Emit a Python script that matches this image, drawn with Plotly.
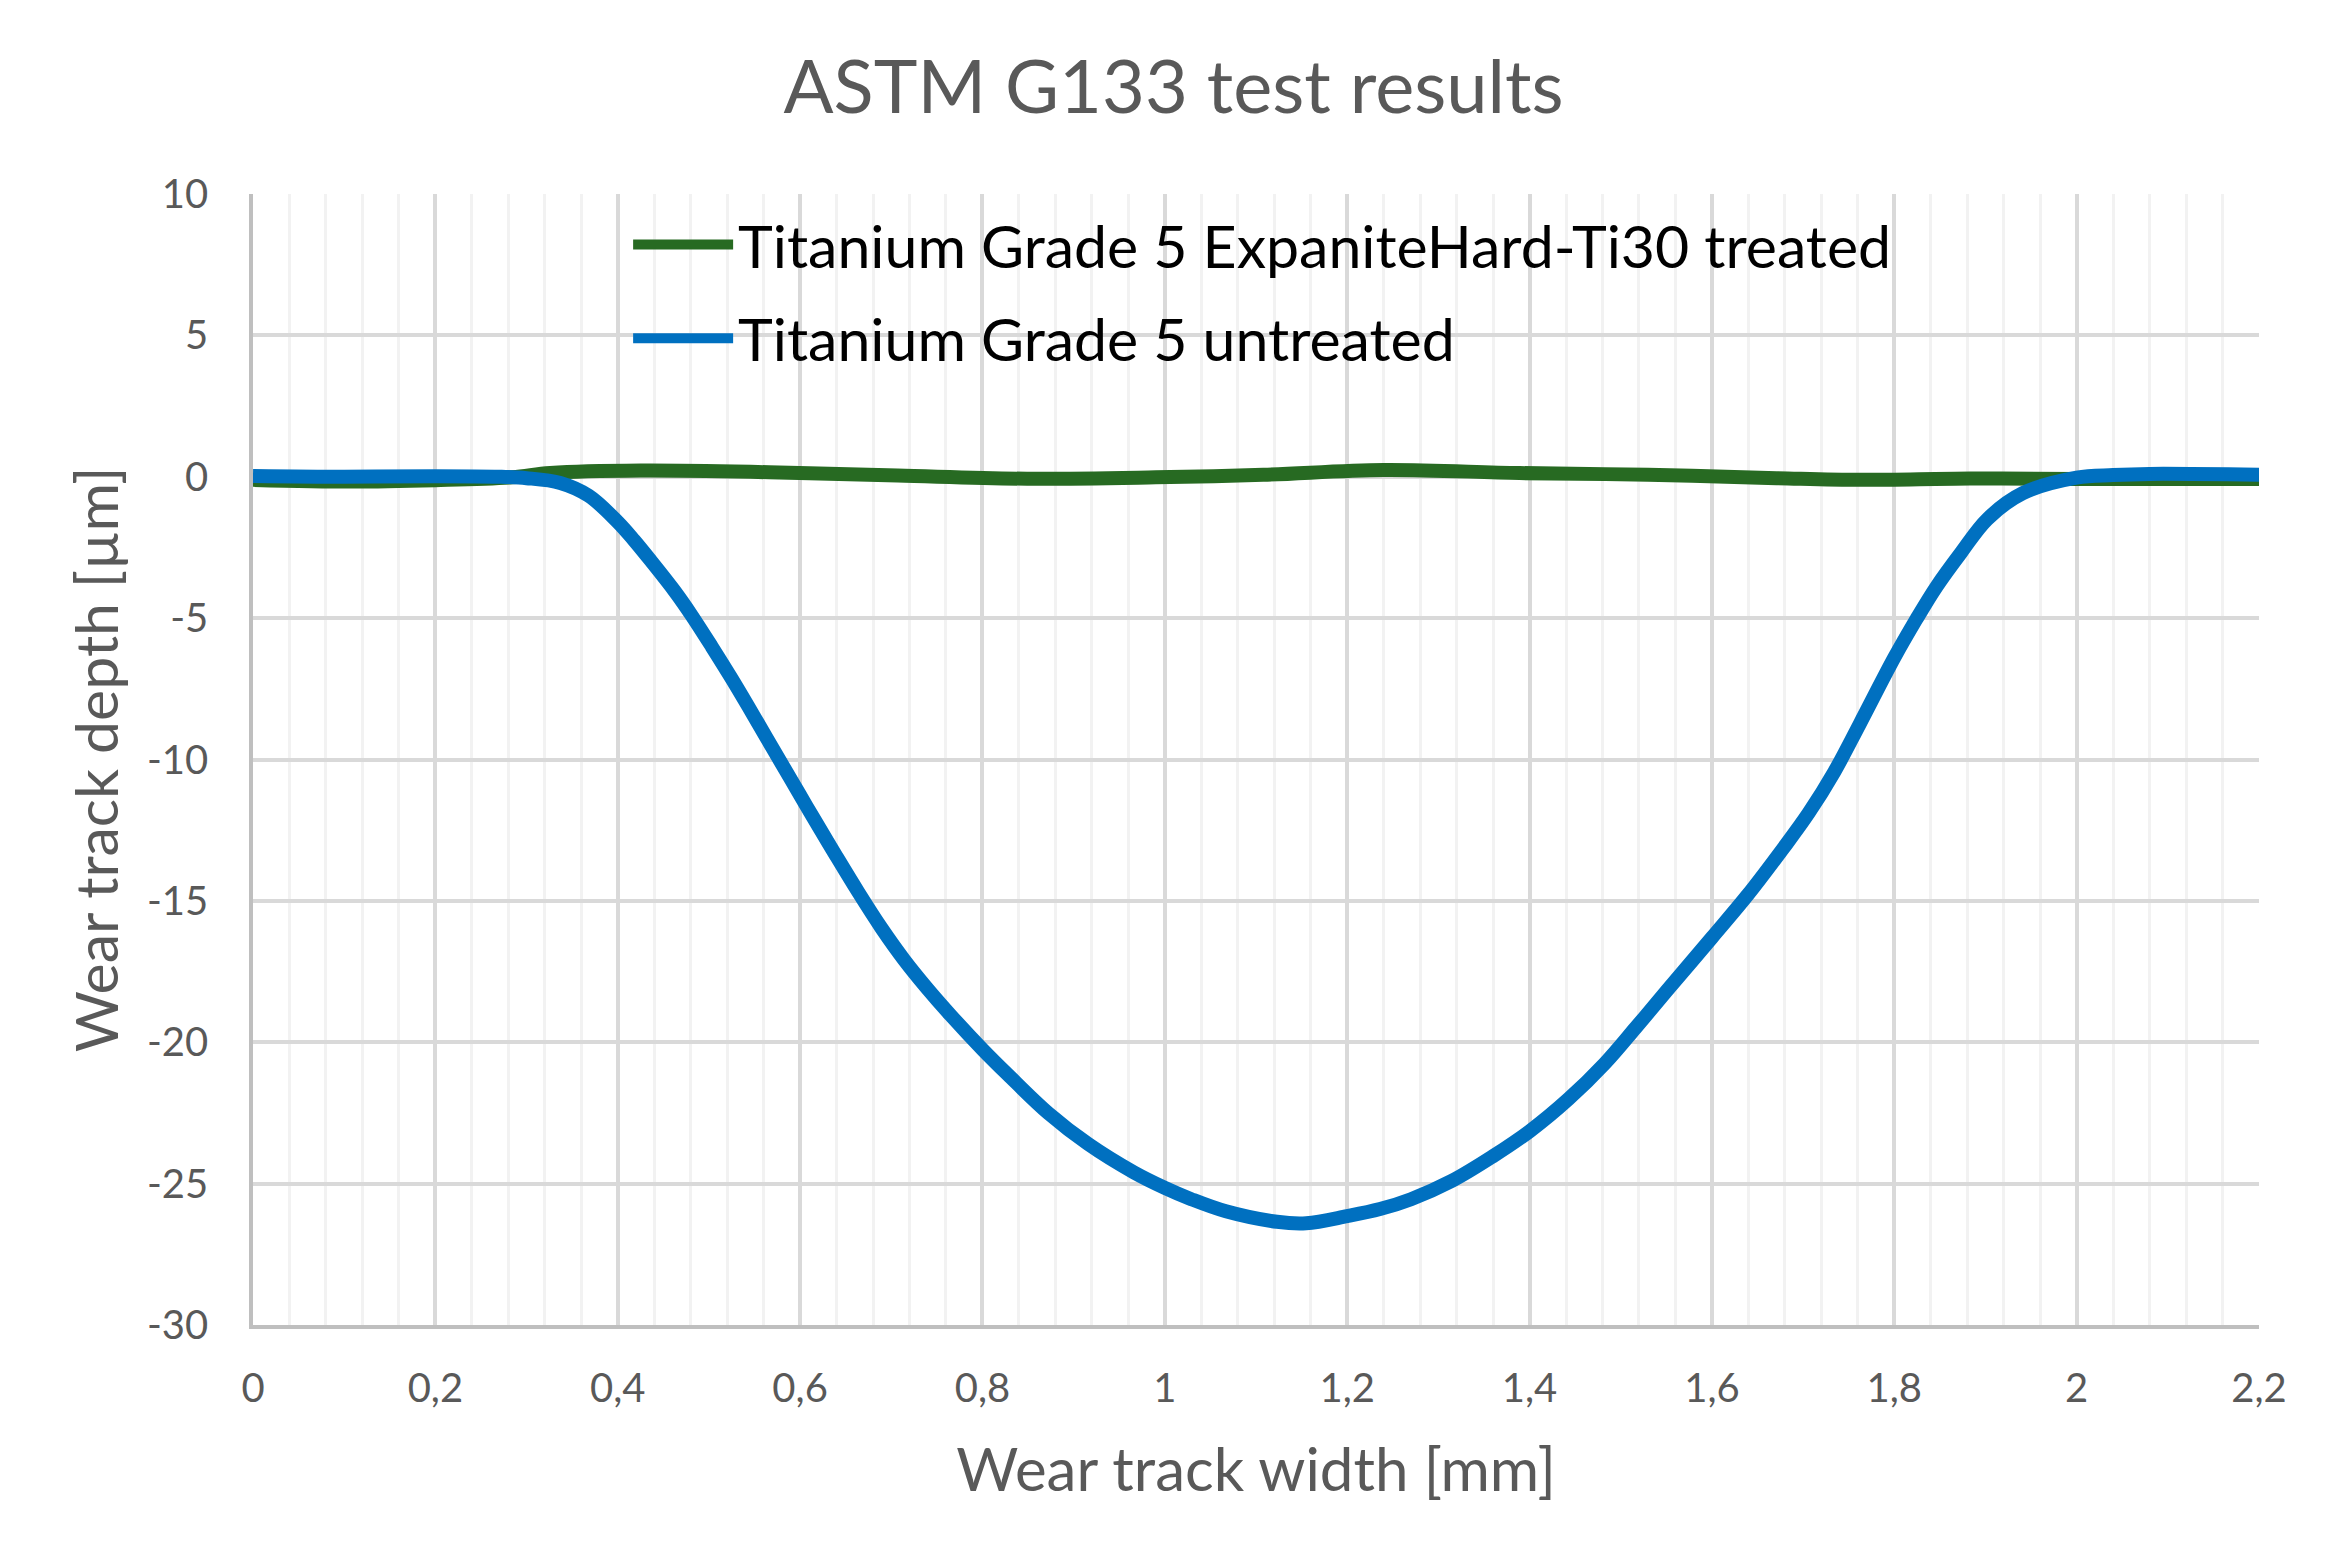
# %% imports

import plotly.graph_objects as go


# %% Data

# untreated sample, wear track profile
x_untreated = [0, 0.1, 0.2, 0.27, 0.3, 0.337, 0.368, 0.4, 0.418, 0.437, 0.4625,
               0.481, 0.503, 0.525, 0.544, 0.563, 0.576, 0.6, 0.614, 0.639, 0.664,
               0.689, 0.714, 0.739, 0.765, 0.8, 0.828, 0.872, 0.916, 0.966, 1.0,
               1.029, 1.067, 1.123, 1.155, 1.2, 1.236, 1.27, 1.315, 1.359, 1.4,
               1.443, 1.4825, 1.516, 1.55, 1.6, 1.639, 1.678, 1.706, 1.734, 1.762,
               1.8, 1.824, 1.846, 1.874, 1.902, 1.941, 2.0, 2.04, 2.08, 2.2]
y_untreated = [0.03, 0.0, 0.02, 0.0, -0.05, -0.22, -0.67, -1.6, -2.25, -3.0, -4.05,
               -4.9, -6.0, -7.14, -8.17, -9.22, -9.94, -11.26, -12.03, -13.38, -14.7,
               -15.95, -17.08, -18.08, -19.04, -20.25, -21.15, -22.5, -23.6, -24.6, -25.15,
               -25.55, -25.98, -26.35, -26.4, -26.15, -25.9, -25.55, -24.9, -24.05, -23.15,
               -22.0, -20.75, -19.5, -18.2, -16.3, -14.8, -13.15, -11.9, -10.45, -8.75,
               -6.4, -5.05, -3.9, -2.65, -1.5, -0.58, -0.03, 0.06, 0.1, 0.07]

# ExpaniteHard-Ti30 treated sample
x_treated = [0, 0.107, 0.2, 0.284, 0.326, 0.425, 0.566, 0.707, 0.849, 0.99,
             1.108, 1.24, 1.389, 1.53, 1.671, 1.763, 1.883, 2.0, 2.095, 2.2]
y_treated = [-0.11, -0.17, -0.12, -0.02, 0.13, 0.22, 0.16, 0.04, -0.07, -0.02,
             0.07, 0.24, 0.13, 0.07, -0.05, -0.11, -0.06, -0.08, -0.08, -0.08]

name_treated = 'Titanium Grade 5 ExpaniteHard-Ti30 treated'
name_untreated = 'Titanium Grade 5 untreated'

y_tickvals = [10, 5, 0, -5, -10, -15, -20, -25, -30]
y_ticktext = ['10', '5', '0', '-5', '-10', '-15', '-20', '-25', '-30']

font_family = 'Lato'
grey_text = '#595959'

# page has an 8px body margin, so the figure is a bit smaller than the window
W, H = 2331, 1551


# %% Figure

fig = go.Figure()

fig.add_trace(go.Scatter(x=x_treated, y=y_treated, name=name_treated, mode='lines',
                         line=dict(color='#276A22', width=14, shape='spline', smoothing=1),
                         legendgroup='a'))
fig.add_trace(go.Scatter(x=x_untreated, y=y_untreated, name=name_untreated, mode='lines',
                         line=dict(color='#0070C0', width=14, shape='spline', smoothing=1),
                         legendgroup='b'))

fig.update_layout(
    width=W, height=H,
    margin=dict(l=245, r=80, t=186, b=234),
    paper_bgcolor='white', plot_bgcolor='white',
    separators=', ',
    font=dict(family=font_family, color=grey_text),
    title=dict(text='ASTM G133 test results', x=0.5, xref='container', xanchor='center',
               y=1 - 79 / H, yref='container', yanchor='middle',
               font=dict(size=74, color=grey_text, family=font_family)),
    legend=dict(x=0.187, y=0.995, xanchor='left', yanchor='top',
                bgcolor='rgba(255,255,255,0)', font=dict(size=59, color='black'),
                tracegroupgap=14, itemwidth=100),
    showlegend=True,
)

fig.update_xaxes(
    range=[0, 2.2], dtick=0.2, tick0=0,
    showgrid=True, gridcolor='#D9D9D9', gridwidth=3.5,
    minor=dict(dtick=0.04, tick0=0, showgrid=True, gridcolor='#F2F2F2', gridwidth=3),
    showline=True, linecolor='#BFBFBF', linewidth=3.5,
    zeroline=False, ticks='', ticklen=0, ticklabelstandoff=25,
    tickfont=dict(size=40, color=grey_text),
    title=dict(text='Wear track width [mm]', standoff=40,
               font=dict(size=60, color=grey_text)),
)

fig.update_yaxes(
    range=[-30, 10], tickvals=y_tickvals, ticktext=y_ticktext,
    showgrid=True, gridcolor='#D9D9D9', gridwidth=3.5,
    showline=True, linecolor='#BFBFBF', linewidth=3.5,
    zeroline=False, ticks='', ticklen=0, ticklabelstandoff=33,
    tickfont=dict(size=40, color=grey_text),
    title=dict(text='Wear track depth [µm]', standoff=10,
               font=dict(size=59, color=grey_text)),
)

fig.write_html('out.html')
